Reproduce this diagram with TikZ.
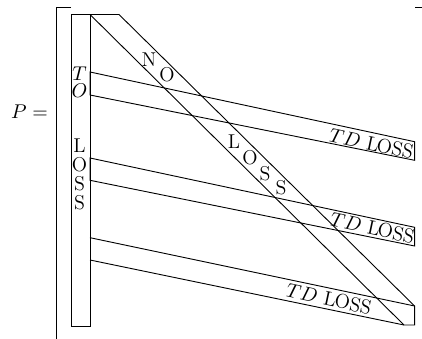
\documentclass[tikz,border=0pt]{standalone}
\usepackage{amsmath}
\usepackage{tikz}
\usetikzlibrary{calc,positioning}

\begin{document}
\begin{tikzpicture}[x=0.55pt,y=-0.55pt,auto]
	\tikzstyle{letter} = [inner sep=0pt, anchor=center, font=\fontsize{11}{13}\selectfont]
	\tikzstyle{bandtext} = [letter, rotate=-12]
	\tikzstyle{rule} = [line width=0.5pt]

	\useasboundingbox (0,0) rectangle (422,339);

	% column on the left
	\node [coordinate] (tl) at (71,14.5) {};
	\node [coordinate] (tm) at (90,14.5) {};
	\node [coordinate] (tr) at (119,14.5) {};
	\node [coordinate] (bl) at (71,326) {};
	\node [coordinate] (bm) at (90,326) {};
	\node [coordinate] (t1) at (103,14.5) {};
	\node [coordinate] (t2) at (110,14.5) {};

	% corners on the right
	\node [coordinate] (dr) at (414.6,306) {};
	\node [coordinate] (dl) at (404,325) {};
	\node [coordinate] (de) at (414.6,325) {};

	% bands
	\node [coordinate] (a1) at (90,72) {};
	\node [coordinate] (a2) at (90,95) {};
	\node [coordinate] (a3) at (414.6,141.7) {};
	\node [coordinate] (a4) at (414.6,160.3) {};
	\node [coordinate] (b1) at (90,158) {};
	\node [coordinate] (b2) at (90,180.3) {};
	\node [coordinate] (b3) at (414.6,227.3) {};
	\node [coordinate] (b4) at (414.6,246) {};
	\node [coordinate] (c1) at (90,237.7) {};
	\node [coordinate] (c2) at (90,260) {};

	% bracket
	\node [coordinate] (p1) at (71,7.5) {};
	\node [coordinate] (p2) at (56,7.5) {};
	\node [coordinate] (p3) at (56,339) {};
	\node [coordinate] (q1) at (415,7.5) {};
	\node [coordinate] (q2) at (422,7.5) {};

	\draw [rule] (p1) -- (p2) -- (p3);
	\draw [rule] (q1) -- (q2);
	\draw [rule] (tr) -- (tl) -- (bl) -- (bm) -- (tm);
	\draw [line width=0.9pt] (t1) -- (t2);
	\draw [rule] (tm) -- (dl) -- (de) -- (dr) -- (tr);
	\draw [rule] (a1) -- (a3) -- (a4) -- (a2) -- cycle;
	\draw [rule] (b1) -- (b3) -- (b4) -- (b2) -- cycle;
	\draw [rule] (c1) -- (dr);
	\draw [rule] (c2) -- (dl);
	\draw [rule] (c1) -- (c2);

	\node [letter] (pe) at (29.5,112) {$P=$};

	\node [letter] (v1) at (79.5,73.5) {$T$};
	\node [letter] (v2) at (79.5,91) {$O$};
	\node [letter] (v3) at (79.5,146) {L};
	\node [letter] (v4) at (79.5,165) {O};
	\node [letter] (v5) at (79.5,184) {S};
	\node [letter] (v6) at (79.5,202.5) {S};

	\node [letter] (n1) at (149,60) {N};
	\node [letter] (n2) at (167,74.5) {O};
	\node [letter] (n3) at (234,142) {L};
	\node [letter] (n4) at (250,158) {O};
	\node [letter] (n5) at (265,174) {S};
	\node [letter] (n6) at (281,188) {S};

	\node [bandtext] (x1) at (371.5,143.5) {$TD$ L\kern-1ptOSS};
	\node [bandtext] (y1) at (372.5,228) {$TD$ L\kern-1ptOSS};
	\node [bandtext] (z1) at (329,299) {$TD$ L\kern-0.5ptOSS};
\end{tikzpicture}
\end{document}
